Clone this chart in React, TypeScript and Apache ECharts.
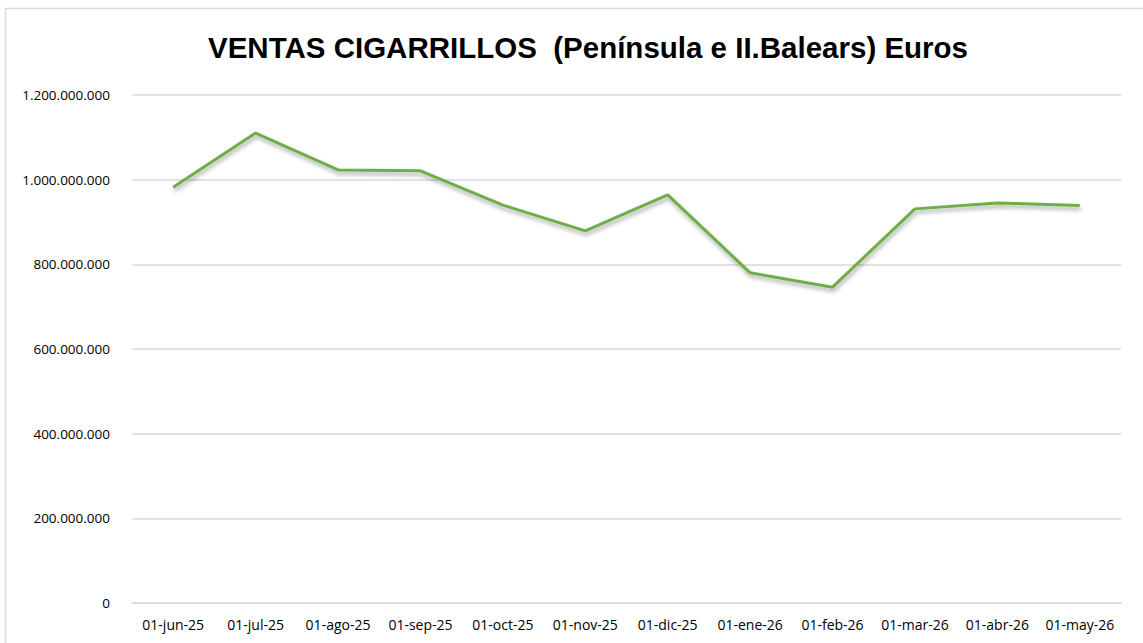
import React, { useEffect, useRef } from "react";
import * as echarts from "echarts";

const categories = [
  "01-jun-25", "01-jul-25", "01-ago-25", "01-sep-25", "01-oct-25", "01-nov-25",
  "01-dic-25", "01-ene-26", "01-feb-26", "01-mar-26", "01-abr-26", "01-may-26",
];
const ventas = [
  982000000, 1110000000, 1023000000, 1021000000, 940000000, 879000000,
  964000000, 780000000, 746000000, 931000000, 945000000, 939000000,
];
const yMin = 0;
const yMax = 1200000000;
const yInterval = 200000000;
const titleText = "VENTAS CIGARRILLOS  (Península e II.Balears) Euros";

const fmtDots = (v: number) => String(v).replace(/\B(?=(\d{3})+(?!\d))/g, ".");

export default function App() {
  const ref = useRef<HTMLDivElement>(null);
  useEffect(() => {
    if (!ref.current) return;
    const chart = echarts.init(ref.current, undefined, { renderer: "svg" });
    chart.setOption({
      animation: false,
      backgroundColor: "#ffffff",
      graphic: [
        {
          type: "rect",
          shape: { x: 5.5, y: 8.5, width: 1160, height: 660 },
          style: { fill: "none", stroke: "#d9d9d9", lineWidth: 1.5 },
          silent: true,
        },
      ],
      title: {
        text: titleText,
        left: 583,
        textAlign: "center",
        top: 27,
        textStyle: {
          fontFamily: "Liberation Sans, Arial, sans-serif",
          fontWeight: "bold",
          fontSize: 29.5,
          color: "#000000",
        },
      },
      grid: { left: 132, right: 22, top: 95, bottom: 40, containLabel: false },
      xAxis: {
        type: "category",
        data: categories,
        boundaryGap: true,
        axisLine: { show: true, lineStyle: { color: "#d9d9d9", width: 1.5 } },
        axisTick: { show: false },
        axisLabel: {
          color: "#000000",
          fontFamily: "Open Sans, Noto Sans, sans-serif",
          fontSize: 14,
          margin: 14,
          interval: 0,
        },
      },
      yAxis: {
        type: "value",
        min: yMin,
        max: yMax,
        interval: yInterval,
        axisLine: { show: false },
        axisTick: { show: false },
        splitLine: { lineStyle: { color: "#d9d9d9", width: 1.5 } },
        axisLabel: {
          color: "#000000",
          fontFamily: "Open Sans, Noto Sans, sans-serif",
          fontSize: 13.5,
          margin: 22,
          formatter: (v: number) => fmtDots(v),
        },
      },
      series: [
        {
          type: "line",
          data: ventas,
          symbol: "none",
          lineStyle: {
            color: "#70ad47",
            width: 3,
            shadowColor: "rgba(0,0,0,0.35)",
            shadowBlur: 4,
            shadowOffsetX: 1,
            shadowOffsetY: 3,
          },
          itemStyle: { color: "#70ad47" },
        },
      ],
    });
    return () => chart.dispose();
  }, []);
  return (
    <div
      ref={ref}
      style={{ position: "fixed", left: 0, top: 0, width: 1143, height: 643 }}
    />
  );
}
